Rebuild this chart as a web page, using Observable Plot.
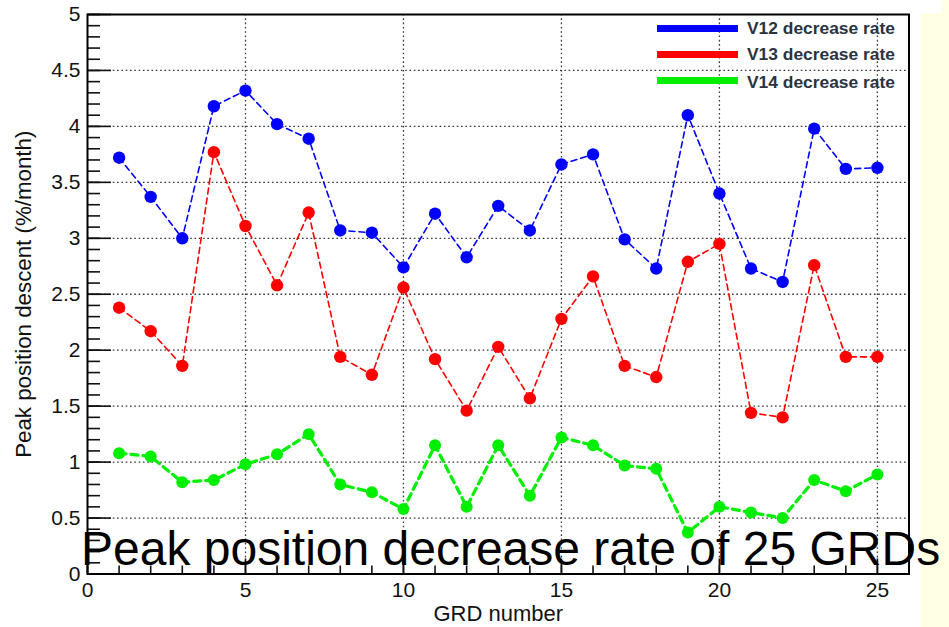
<!DOCTYPE html>
<html>
<head>
<meta charset="utf-8">
<script src="https://cdn.jsdelivr.net/npm/d3@7"></script>
<script src="https://cdn.jsdelivr.net/npm/@observablehq/plot@0.6"></script>
<style>
  html, body { margin: 0; padding: 0; background: #ffffff; }
  #wrap { position: relative; width: 949px; height: 627px; overflow: hidden; font-family: "Liberation Sans", Arial, sans-serif; }
  .yellow { position: absolute; background: #ffffe3; }
  #chart { position: absolute; left: 0; top: 0; }
  #legend { position: absolute; left: 657px; top: 14px; width: 250px; height: 80px; }
  .lsw { position: absolute; left: 0; width: 81px; height: 7px; }
  .ltx { position: absolute; left: 90px; font-weight: bold; font-size: 17.4px; color: #2b3340; line-height: 17px; white-space: nowrap; }
  #bigtitle { position: absolute; left: 81px; top: 525px; font-size: 48px; line-height: 48px; color: #000; white-space: nowrap; }
</style>
</head>
<body>
<div id="wrap">
  <div class="yellow" style="left:921px; top:13px; width:28px; height:614px;"></div>
  <div class="yellow" style="left:942px; top:0px; width:7px; height:13px;"></div>
  <div id="chart"></div>
  <div id="legend"></div>
  <div id="bigtitle"></div>
</div>
<script>
// ---- data ----
const grd = [1,2,3,4,5,6,7,8,9,10,11,12,13,14,15,16,17,18,19,20,21,22,23,24,25];
const v12 = [3.72,3.37,3.00,4.18,4.32,4.02,3.89,3.07,3.05,2.74,3.22,2.83,3.29,3.07,3.66,3.75,2.99,2.73,4.10,3.40,2.73,2.61,3.98,3.62,3.63];
const v13 = [2.38,2.17,1.86,3.77,3.11,2.58,3.23,1.94,1.78,2.56,1.92,1.46,2.03,1.57,2.28,2.66,1.86,1.76,2.79,2.95,1.44,1.40,2.76,1.94,1.94];
const v14 = [1.08,1.05,0.82,0.84,0.98,1.07,1.25,0.80,0.73,0.58,1.15,0.60,1.15,0.70,1.22,1.15,0.97,0.94,0.37,0.60,0.55,0.50,0.84,0.74,0.89];
const seriesNames = ["V12 decrease rate","V13 decrease rate","V14 decrease rate"];
const seriesColors = ["#0000ff","#ff0000","#00ee00"];
const xMajorTicks = [0,5,10,15,20,25];
const xMinorTicks = [0,1,2,3,4,5,6,7,8,9,10,11,12,13,14,15,16,17,18,19,20,21,22,23,24,25,26];
const yMajorTicks = [0,0.5,1,1.5,2,2.5,3,3.5,4,4.5,5];
const yMinorTicks = [0,0.1,0.2,0.3,0.4,0.5,0.6,0.7,0.8,0.9,1,1.1,1.2,1.3,1.4,1.5,1.6,1.7,1.8,1.9,2,2.1,2.2,2.3,2.4,2.5,2.6,2.7,2.8,2.9,3,3.1,3.2,3.3,3.4,3.5,3.6,3.7,3.8,3.9,4,4.1,4.2,4.3,4.4,4.5,4.6,4.7,4.8,4.9,5];
const yTickLabels = ["0","0.5","1","1.5","2","2.5","3","3.5","4","4.5","5"];
const xTickLabels = ["0","5","10","15","20","25"];
const xTitle = "GRD number";
const yTitle = "Peak position descent (%/month)";
const bigTitle = "Peak position decrease rate of 25 GRDs";

const allValues = [v12, v13, v14];
const rows = (i) => grd.map((g, j) => ({grd: g, value: allValues[i][j], series: seriesNames[i]}));
const d12 = rows(0), d13 = rows(1), d14 = rows(2);

const gridStyle = {stroke: "#222", strokeOpacity: 0.9, strokeWidth: 1.3, strokeDasharray: "1.6,2.7"};
const lineStyles = [
  {strokeWidth: 1.6, strokeDasharray: "6,4"},
  {strokeWidth: 1.6, strokeDasharray: "6,4"},
  {strokeWidth: 3.2, strokeDasharray: "7,5"}
];

const chart = Plot.plot({
  width: 949,
  height: 627,
  marginLeft: 87,
  marginRight: 40.5,
  marginTop: 14,
  marginBottom: 53.5,
  style: {fontFamily: "'Liberation Sans', Arial, sans-serif", background: "transparent", overflow: "visible"},
  x: {domain: [0, 26]},
  y: {domain: [0, 5]},
  marks: [
    Plot.gridY(yMajorTicks.filter(t => t > 0 && t < 5), gridStyle),
    Plot.gridX(xMajorTicks.filter(t => t > 0), gridStyle),
    // lines
    Plot.line(d12, {x: "grd", y: "value", stroke: seriesColors[0], ...lineStyles[0]}),
    Plot.line(d13, {x: "grd", y: "value", stroke: seriesColors[1], ...lineStyles[1]}),
    Plot.line(d14, {x: "grd", y: "value", stroke: seriesColors[2], ...lineStyles[2]}),
    // markers
    Plot.dot(d12, {x: "grd", y: "value", r: 6.2, fill: seriesColors[0], stroke: "none"}),
    Plot.dot(d13, {x: "grd", y: "value", r: 6.2, fill: seriesColors[1], stroke: "none"}),
    Plot.dot(d14, {x: "grd", y: "value", r: 6, fill: seriesColors[2], stroke: "none"}),
    // inward ticks (ROOT style)
    Plot.axisY(yMajorTicks, {anchor: "left", tickSize: -24, fill: "none", label: null, stroke: "#111", strokeWidth: 1.6}),
    Plot.axisY(yMinorTicks, {anchor: "left", tickSize: -13, fill: "none", label: null, stroke: "#111", strokeWidth: 1.6}),
    Plot.axisX(xMajorTicks, {anchor: "bottom", tickSize: -15, fill: "none", label: null, stroke: "#111", strokeWidth: 1.6}),
    Plot.axisX(xMinorTicks, {anchor: "bottom", tickSize: -8, fill: "none", label: null, stroke: "#111", strokeWidth: 1.6}),
    // tick labels
    Plot.axisY(yMajorTicks, {anchor: "left", tickSize: 0, tickPadding: 7, fontSize: 21, fill: "#111",
      tickFormat: (d, i) => yTickLabels[i], label: null}),
    Plot.axisX(xMajorTicks, {anchor: "bottom", tickSize: 0, tickPadding: 8, fontSize: 21, fill: "#111",
      tickFormat: (d, i) => xTickLabels[i], label: null}),
    // axis titles
    Plot.axisY([], {anchor: "left", tickSize: 0, fontSize: 22.3, fill: "#111",
      label: yTitle, labelAnchor: "center", labelArrow: "none", labelOffset: 72}),
    Plot.axisX([], {anchor: "bottom", tickSize: 0, fontSize: 22, fill: "#111",
      label: xTitle, labelAnchor: "center", labelArrow: "none", labelOffset: 47}),
    Plot.frame({stroke: "#000", strokeWidth: 2})
  ]
});
document.getElementById("chart").appendChild(chart);

// legend
const legend = document.getElementById("legend");
const swatchTops = [10.5, 37, 62.5];
const textTops = [5.5, 32, 59.5];
seriesNames.forEach((name, i) => {
  const sw = document.createElement("div");
  sw.className = "lsw";
  sw.style.top = swatchTops[i] + "px";
  sw.style.background = seriesColors[i];
  legend.appendChild(sw);
  const tx = document.createElement("div");
  tx.className = "ltx";
  tx.style.top = textTops[i] + "px";
  tx.textContent = name;
  legend.appendChild(tx);
});

document.getElementById("bigtitle").textContent = bigTitle;
</script>
</body>
</html>
